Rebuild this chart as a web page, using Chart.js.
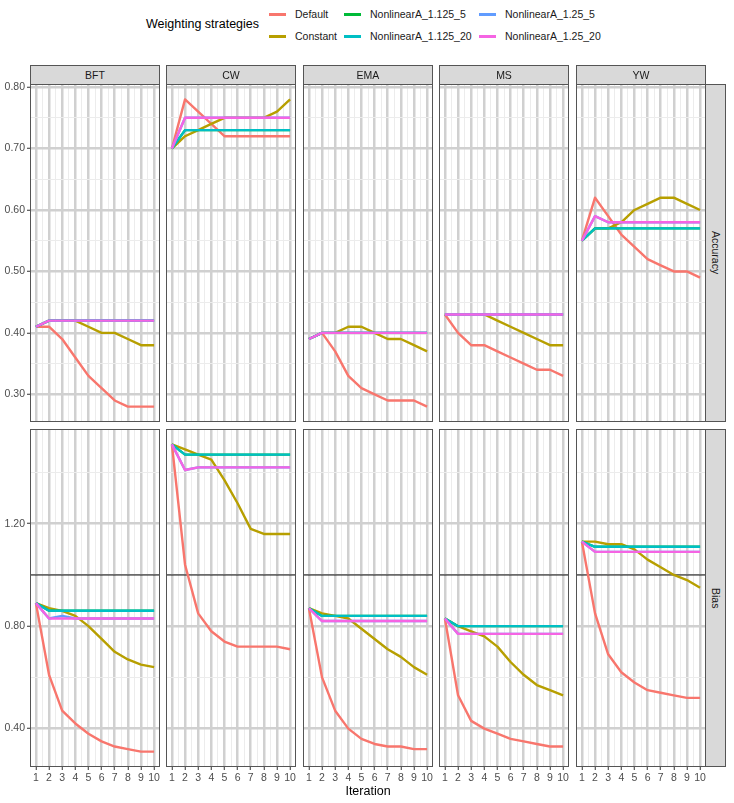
<!DOCTYPE html>
<html>
<head>
<meta charset="utf-8">
<script src="https://cdn.jsdelivr.net/npm/chart.js@4.4.1/dist/chart.umd.min.js"></script>
<style>
  html, body { margin:0; padding:0; background:#fff; }
  body { width:734px; height:803px; position:relative; overflow:hidden; font-family:"Liberation Sans", Arial, sans-serif; }
  canvas { position:absolute; }
  .strip { position:absolute; background:#d9d9d9; border:1px solid #555; box-sizing:border-box; color:#1a1a1a; font-size:10.5px; display:flex; align-items:center; justify-content:center; z-index:2; }
  .vstrip { writing-mode:vertical-rl; }
  .txt { position:absolute; white-space:nowrap; color:#000; }
  .key { position:absolute; height:3px; width:17px; }
</style>
</head>
<body>
<script>
// ---------------- data ----------------
const iterations = [1, 2, 3, 4, 5, 6, 7, 8, 9, 10];
const xTickLabels = ["1", "2", "3", "4", "5", "6", "7", "8", "9", "10"];
const strategies = ["Default", "Constant", "NonlinearA_1.125_5", "NonlinearA_1.125_20", "NonlinearA_1.25_5", "NonlinearA_1.25_20"];
const methods = ["BFT", "CW", "EMA", "MS", "YW"];
const metrics = ["Accuracy", "Bias"];
const accuracyTicks = [0.30, 0.40, 0.50, 0.60, 0.70, 0.80];
const biasTicks = [0.40, 0.80, 1.20];
const biasReference = 1.0;

// each panel: one row per strategy, in the order of `strategies`
const BFT_Accuracy = [
  [0.41, 0.41, 0.39, 0.36, 0.33, 0.31, 0.29, 0.28, 0.28, 0.28],
  [0.41, 0.42, 0.42, 0.42, 0.41, 0.40, 0.40, 0.39, 0.38, 0.38],
  [0.41, 0.42, 0.42, 0.42, 0.42, 0.42, 0.42, 0.42, 0.42, 0.42],
  [0.41, 0.42, 0.42, 0.42, 0.42, 0.42, 0.42, 0.42, 0.42, 0.42],
  [0.41, 0.42, 0.42, 0.42, 0.42, 0.42, 0.42, 0.42, 0.42, 0.42],
  [0.41, 0.42, 0.42, 0.42, 0.42, 0.42, 0.42, 0.42, 0.42, 0.42]
];
const CW_Accuracy = [
  [0.70, 0.78, 0.76, 0.74, 0.72, 0.72, 0.72, 0.72, 0.72, 0.72],
  [0.70, 0.72, 0.73, 0.74, 0.75, 0.75, 0.75, 0.75, 0.76, 0.78],
  [0.70, 0.73, 0.73, 0.73, 0.73, 0.73, 0.73, 0.73, 0.73, 0.73],
  [0.70, 0.73, 0.73, 0.73, 0.73, 0.73, 0.73, 0.73, 0.73, 0.73],
  [0.70, 0.75, 0.75, 0.75, 0.75, 0.75, 0.75, 0.75, 0.75, 0.75],
  [0.70, 0.75, 0.75, 0.75, 0.75, 0.75, 0.75, 0.75, 0.75, 0.75]
];
const EMA_Accuracy = [
  [0.39, 0.40, 0.37, 0.33, 0.31, 0.30, 0.29, 0.29, 0.29, 0.28],
  [0.39, 0.40, 0.40, 0.41, 0.41, 0.40, 0.39, 0.39, 0.38, 0.37],
  [0.39, 0.40, 0.40, 0.40, 0.40, 0.40, 0.40, 0.40, 0.40, 0.40],
  [0.39, 0.40, 0.40, 0.40, 0.40, 0.40, 0.40, 0.40, 0.40, 0.40],
  [0.39, 0.40, 0.40, 0.40, 0.40, 0.40, 0.40, 0.40, 0.40, 0.40],
  [0.39, 0.40, 0.40, 0.40, 0.40, 0.40, 0.40, 0.40, 0.40, 0.40]
];
const MS_Accuracy = [
  [0.43, 0.40, 0.38, 0.38, 0.37, 0.36, 0.35, 0.34, 0.34, 0.33],
  [0.43, 0.43, 0.43, 0.43, 0.42, 0.41, 0.40, 0.39, 0.38, 0.38],
  [0.43, 0.43, 0.43, 0.43, 0.43, 0.43, 0.43, 0.43, 0.43, 0.43],
  [0.43, 0.43, 0.43, 0.43, 0.43, 0.43, 0.43, 0.43, 0.43, 0.43],
  [0.43, 0.43, 0.43, 0.43, 0.43, 0.43, 0.43, 0.43, 0.43, 0.43],
  [0.43, 0.43, 0.43, 0.43, 0.43, 0.43, 0.43, 0.43, 0.43, 0.43]
];
const YW_Accuracy = [
  [0.55, 0.62, 0.59, 0.56, 0.54, 0.52, 0.51, 0.50, 0.50, 0.49],
  [0.55, 0.57, 0.57, 0.58, 0.60, 0.61, 0.62, 0.62, 0.61, 0.60],
  [0.55, 0.57, 0.57, 0.57, 0.57, 0.57, 0.57, 0.57, 0.57, 0.57],
  [0.55, 0.57, 0.57, 0.57, 0.57, 0.57, 0.57, 0.57, 0.57, 0.57],
  [0.55, 0.59, 0.58, 0.58, 0.58, 0.58, 0.58, 0.58, 0.58, 0.58],
  [0.55, 0.59, 0.58, 0.58, 0.58, 0.58, 0.58, 0.58, 0.58, 0.58]
];
const BFT_Bias = [
  [0.89, 0.61, 0.47, 0.42, 0.38, 0.35, 0.33, 0.32, 0.31, 0.31],
  [0.89, 0.87, 0.86, 0.84, 0.80, 0.75, 0.70, 0.67, 0.65, 0.64],
  [0.89, 0.86, 0.86, 0.86, 0.86, 0.86, 0.86, 0.86, 0.86, 0.86],
  [0.89, 0.86, 0.86, 0.86, 0.86, 0.86, 0.86, 0.86, 0.86, 0.86],
  [0.89, 0.83, 0.84, 0.83, 0.83, 0.83, 0.83, 0.83, 0.83, 0.83],
  [0.89, 0.83, 0.83, 0.83, 0.83, 0.83, 0.83, 0.83, 0.83, 0.83]
];
const CW_Bias = [
  [1.51, 1.04, 0.85, 0.78, 0.74, 0.72, 0.72, 0.72, 0.72, 0.71],
  [1.51, 1.49, 1.47, 1.45, 1.37, 1.28, 1.18, 1.16, 1.16, 1.16],
  [1.51, 1.47, 1.47, 1.47, 1.47, 1.47, 1.47, 1.47, 1.47, 1.47],
  [1.51, 1.47, 1.47, 1.47, 1.47, 1.47, 1.47, 1.47, 1.47, 1.47],
  [1.51, 1.41, 1.42, 1.42, 1.42, 1.42, 1.42, 1.42, 1.42, 1.42],
  [1.51, 1.41, 1.42, 1.42, 1.42, 1.42, 1.42, 1.42, 1.42, 1.42]
];
const EMA_Bias = [
  [0.87, 0.60, 0.47, 0.40, 0.36, 0.34, 0.33, 0.33, 0.32, 0.32],
  [0.87, 0.85, 0.84, 0.83, 0.79, 0.75, 0.71, 0.68, 0.64, 0.61],
  [0.87, 0.84, 0.84, 0.84, 0.84, 0.84, 0.84, 0.84, 0.84, 0.84],
  [0.87, 0.84, 0.84, 0.84, 0.84, 0.84, 0.84, 0.84, 0.84, 0.84],
  [0.87, 0.82, 0.82, 0.82, 0.82, 0.82, 0.82, 0.82, 0.82, 0.82],
  [0.87, 0.82, 0.82, 0.82, 0.82, 0.82, 0.82, 0.82, 0.82, 0.82]
];
const MS_Bias = [
  [0.83, 0.53, 0.43, 0.40, 0.38, 0.36, 0.35, 0.34, 0.33, 0.33],
  [0.83, 0.80, 0.78, 0.76, 0.72, 0.66, 0.61, 0.57, 0.55, 0.53],
  [0.83, 0.80, 0.80, 0.80, 0.80, 0.80, 0.80, 0.80, 0.80, 0.80],
  [0.83, 0.80, 0.80, 0.80, 0.80, 0.80, 0.80, 0.80, 0.80, 0.80],
  [0.83, 0.77, 0.77, 0.77, 0.77, 0.77, 0.77, 0.77, 0.77, 0.77],
  [0.83, 0.77, 0.77, 0.77, 0.77, 0.77, 0.77, 0.77, 0.77, 0.77]
];
const YW_Bias = [
  [1.13, 0.85, 0.69, 0.62, 0.58, 0.55, 0.54, 0.53, 0.52, 0.52],
  [1.13, 1.13, 1.12, 1.12, 1.10, 1.06, 1.03, 1.00, 0.98, 0.95],
  [1.13, 1.11, 1.11, 1.11, 1.11, 1.11, 1.11, 1.11, 1.11, 1.11],
  [1.13, 1.11, 1.11, 1.11, 1.11, 1.11, 1.11, 1.11, 1.11, 1.11],
  [1.13, 1.09, 1.09, 1.09, 1.09, 1.09, 1.09, 1.09, 1.09, 1.09],
  [1.13, 1.09, 1.09, 1.09, 1.09, 1.09, 1.09, 1.09, 1.09, 1.09]
];

const panelData = {
  Accuracy: { BFT: BFT_Accuracy, CW: CW_Accuracy, EMA: EMA_Accuracy, MS: MS_Accuracy, YW: YW_Accuracy },
  Bias:     { BFT: BFT_Bias,     CW: CW_Bias,     EMA: EMA_Bias,     MS: MS_Bias,     YW: YW_Bias }
};
const majorTicks = { Accuracy: accuracyTicks, Bias: biasTicks };

// ---------------- styling / layout ----------------
const colors = ["#F8766D", "#B79F00", "#00BA38", "#00BFC4", "#619CFF", "#F564E3"];
const PANEL_LEFT = [30, 166, 303, 439, 576];
const PANEL_TOP = [84, 429];
const PW = 130, PH = 338;
const MAJOR_GRID = "#d0d0d0", MINOR_GRID = "#ececec";
Chart.defaults.font.family = '"Liberation Sans", Arial, sans-serif';

function expandRange(lo, hi) { const d = (hi - lo) * 0.05; return [lo - d, hi + d]; }
const xRange = expandRange(Math.min(...iterations), Math.max(...iterations));
const yRanges = {};
metrics.forEach(m => {
  const all = methods.flatMap(me => panelData[m][me].flat());
  yRanges[m] = expandRange(Math.min(...all), Math.max(...all));
});
function withMinors(majors, lo, hi) {
  const step = majors[1] - majors[0];
  const out = [];
  for (let k = -1; k < majors.length; k++) {
    const base = k < 0 ? majors[0] - step : majors[k];
    const half = base + step / 2;
    if (k >= 0 && base >= lo && base <= hi) out.push({ v: base, major: true });
    if (half >= lo && half <= hi) out.push({ v: half, major: false });
  }
  return out.sort((a, b) => a.v - b.v);
}
const xGrid = withMinors(iterations, xRange[0], xRange[1]);

const borderPlugin = {
  id: "panelBorder",
  afterDraw(chart) {
    const a = chart.chartArea, ctx = chart.ctx;
    ctx.save();
    ctx.strokeStyle = "#555";
    ctx.lineWidth = 1;
    ctx.strokeRect(Math.round(a.left) + 0.5, Math.round(a.top) + 0.5, Math.round(a.width) - 1, Math.round(a.height) - 1);
    ctx.restore();
  }
};

function isMajorVal(list, v) { return list.some(t => Math.abs(t.v - v) < 1e-9 && t.major); }

function makePanel(c, r) {
  const method = methods[c], metric = metrics[r];
  const rows = panelData[metric][method];
  const yGrid = withMinors(majorTicks[metric], yRanges[metric][0], yRanges[metric][1]);
  const yW = c === 0 ? 30 : 0;
  const padL = c === 0 ? 0 : 8, padR = 8, padT = 10;
  const xH = r === 1 ? 30 : 0;
  const padB = r === 1 ? 0 : 10;
  const W = PW + padL + yW + padR, H = PH + padT + padB + xH;
  const cv = document.createElement("canvas");
  cv.width = W; cv.height = H;
  cv.style.width = W + "px"; cv.style.height = H + "px";
  cv.style.left = (PANEL_LEFT[c] - padL - yW) + "px";
  cv.style.top = (PANEL_TOP[r] - padT) + "px";
  document.body.appendChild(cv);

  const datasets = rows.map((vals, i) => ({
    label: strategies[i],
    data: vals.map((v, k) => ({ x: iterations[k], y: v })),
    borderColor: colors[i],
    backgroundColor: colors[i],
    borderWidth: 2.4,
    borderJoinStyle: "round",
    pointRadius: 0,
    tension: 0,
    fill: false,
    order: 10 - i
  }));
  if (metric === "Bias") {
    datasets.push({
      label: "reference",
      data: [{ x: xRange[0], y: biasReference }, { x: xRange[1], y: biasReference }],
      borderColor: "#000", borderWidth: 1, pointRadius: 0, fill: false, order: 100
    });
  }

  new Chart(cv, {
    type: "line",
    data: { datasets },
    plugins: [borderPlugin],
    options: {
      responsive: false,
      animation: false,
      devicePixelRatio: 1,
      layout: { padding: { left: padL, right: padR, top: padT, bottom: padB } },
      plugins: { legend: { display: false }, tooltip: { enabled: false } },
      scales: {
        x: {
          type: "linear", min: xRange[0], max: xRange[1], position: "bottom",
          afterBuildTicks: s => { s.ticks = xGrid.map(t => ({ value: t.v })); },
          afterFit: s => { s.height = xH; },
          border: { display: false },
          grid: {
            color: ctx => isMajorVal(xGrid, ctx.tick.value) ? MAJOR_GRID : MINOR_GRID,
            lineWidth: ctx => isMajorVal(xGrid, ctx.tick.value) ? 2.5 : 1,
            drawTicks: r === 1, tickLength: 3, tickWidth: 1,
            tickColor: ctx => isMajorVal(xGrid, ctx.tick.value) ? "#333" : "rgba(0,0,0,0)"
          },
          ticks: {
            display: r === 1, autoSkip: false, maxRotation: 0, minRotation: 0, padding: 2,
            color: "#4d4d4d", font: { size: 10.5 },
            callback: v => { const i = iterations.indexOf(v); return i >= 0 ? xTickLabels[i] : ""; }
          }
        },
        y: {
          type: "linear", min: yRanges[metric][0], max: yRanges[metric][1], position: "left",
          afterBuildTicks: s => { s.ticks = yGrid.map(t => ({ value: t.v })); },
          afterFit: s => { s.width = yW; },
          border: { display: false },
          grid: {
            color: ctx => isMajorVal(yGrid, ctx.tick.value) ? MAJOR_GRID : MINOR_GRID,
            lineWidth: ctx => isMajorVal(yGrid, ctx.tick.value) ? 2.5 : 1,
            drawTicks: c === 0, tickLength: 3, tickWidth: 1,
            tickColor: ctx => isMajorVal(yGrid, ctx.tick.value) ? "#333" : "rgba(0,0,0,0)"
          },
          ticks: {
            display: c === 0, autoSkip: false, padding: 2,
            color: "#4d4d4d", font: { size: 10.5 },
            callback: v => isMajorVal(yGrid, v) ? v.toFixed(2) : ""
          }
        }
      }
    }
  });
}

for (let r = 0; r < metrics.length; r++)
  for (let c = 0; c < methods.length; c++) makePanel(c, r);

// strips
methods.forEach((m, c) => {
  const d = document.createElement("div");
  d.className = "strip";
  d.style.left = PANEL_LEFT[c] + "px"; d.style.top = "65px";
  d.style.width = PW + "px"; d.style.height = "20px";
  d.textContent = m;
  document.body.appendChild(d);
});
metrics.forEach((m, r) => {
  const d = document.createElement("div");
  d.className = "strip vstrip";
  d.style.left = (PANEL_LEFT[4] + PW - 1) + "px"; d.style.top = PANEL_TOP[r] + "px";
  d.style.width = "21px"; d.style.height = PH + "px";
  d.textContent = m;
  document.body.appendChild(d);
});

// axis title
const xt = document.createElement("div");
xt.className = "txt";
xt.style.fontSize = "12.5px";
xt.style.left = "368px"; xt.style.top = "784px"; xt.style.transform = "translateX(-50%)";
xt.textContent = "Iteration";
document.body.appendChild(xt);

// legend
const lt = document.createElement("div");
lt.className = "txt";
lt.style.fontSize = "12.5px";
lt.style.left = "146px"; lt.style.top = "17px";
lt.textContent = "Weighting strategies";
document.body.appendChild(lt);
const keyX = [269, 344, 479], rowY = [14, 36];
strategies.forEach((s, i) => {
  const col = Math.floor(i / 2), row = i % 2;
  const k = document.createElement("div");
  k.className = "key";
  k.style.background = colors[i];
  k.style.left = keyX[col] + "px"; k.style.top = (rowY[row] - 1.5) + "px";
  document.body.appendChild(k);
  const t = document.createElement("div");
  t.className = "txt";
  t.style.fontSize = "10.5px";
  t.style.color = "#1a1a1a";
  t.style.left = (keyX[col] + 26) + "px"; t.style.top = (rowY[row] - 6.5) + "px";
  t.textContent = s;
  document.body.appendChild(t);
});
</script>
</body>
</html>
